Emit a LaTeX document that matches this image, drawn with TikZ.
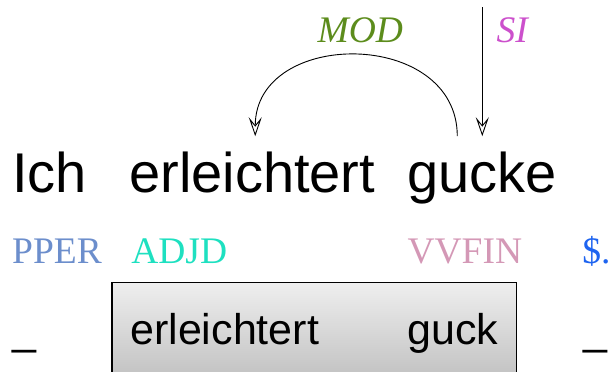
\documentclass[tikz,border=0pt]{standalone}
\usepackage{fontspec}
\setmainfont{Liberation Serif}
\setsansfont{Liberation Sans}
\usepackage{tikz}
\usetikzlibrary{positioning,fit,backgrounds,arrows.meta}

\definecolor{modgreen}{RGB}{92,140,28}
\definecolor{simagenta}{RGB}{204,80,204}
\definecolor{pperblue}{RGB}{108,142,204}
\definecolor{adjdcyan}{RGB}{30,224,192}
\definecolor{vvfinpink}{RGB}{212,152,182}
\definecolor{punctblue}{RGB}{30,100,240}

\begin{document}
\begin{tikzpicture}[x=1pt, y=1pt,
  word/.style={font=\sffamily\fontsize{56}{60}\selectfont, inner xsep=0pt, inner ysep=15pt},
  tag/.style={font=\fontsize{37.5}{40}\selectfont, inner sep=0pt, anchor=base west},
  lemma/.style={font=\sffamily\fontsize{43}{46}\selectfont, inner sep=0pt, anchor=base west},
  rel/.style={font=\itshape\fontsize{37.5}{40}\selectfont, inner sep=0pt},
  dep/.style={-{Stealth[open, length=19pt, width=13pt, inset=8pt]}, line width=0.9pt},
  lemmabox/.style={draw, line width=1.4pt, top color=gray!13, bottom color=gray!50,
                   inner xsep=18pt, inner ysep=30pt}]

  \useasboundingbox (0,0) rectangle (611,-372);

  % ── Row 0: Tokens ─────────────────────────────────────────────
  \node[word, anchor=base west]         (ich)         at (12,-192) {Ich};
  \node[word, base right=42pt of ich]         (erleichtert) {erleichtert};
  \node[word, base right=32pt of erleichtert] (gucke)       {gucke};

  % ── Row 1: POS tags ───────────────────────────────────────────
  \node[tag, text=pperblue]  (pper)  at ([yshift=-71pt]ich.base west)                 {PPER};
  \node[tag, text=adjdcyan]  (adjd)  at ([xshift=2pt,yshift=-71pt]erleichtert.base west) {ADJD};
  \node[tag, text=vvfinpink] (vvfin) at ([yshift=-71pt]gucke.base west)               {VVFIN};
  \node[tag, text=punctblue] (punct) at ([xshift=25pt,yshift=-71pt]gucke.base east)   {\$.};

  % ── Row 2: Lemmas ─────────────────────────────────────────────
  \node[lemma] (lich)   at ([yshift=-81pt]pper.base west)              {\_};
  \node[lemma] (lerl)   at ([xshift=-1pt,yshift=-81pt]adjd.base west)  {erleichtert};
  \node[lemma] (lguck)  at ([yshift=-81pt]vvfin.base west)             {guck};
  \node[lemma] (lpunct) at ([xshift=1pt,yshift=-81pt]punct.base west)  {\_};

  % Box round the multi-word lemma
  \begin{scope}[on background layer]
    \clip (0,0) rectangle (611,-372);
    \node[lemmabox, fit=(lerl)(lguck)] (mwe) {};
  \end{scope}

  % ── Dependency edges ──────────────────────────────────────────

  % gucke → erleichtert
  \draw[dep] ([xshift=-25pt]gucke.north) to[out=90, in=90, looseness=1.37]
    node[rel, text=modgreen, pos=.5, above=12pt, xshift=4pt] {MOD}
    ([xshift=3pt]erleichtert.north);

  % Incoming edge from above
  \draw[dep] ([yshift=129pt]gucke.north) --
    node[rel, text=simagenta, pos=.27, anchor=base west, xshift=14pt] {SI}
    (gucke.north);

\end{tikzpicture}
\end{document}
